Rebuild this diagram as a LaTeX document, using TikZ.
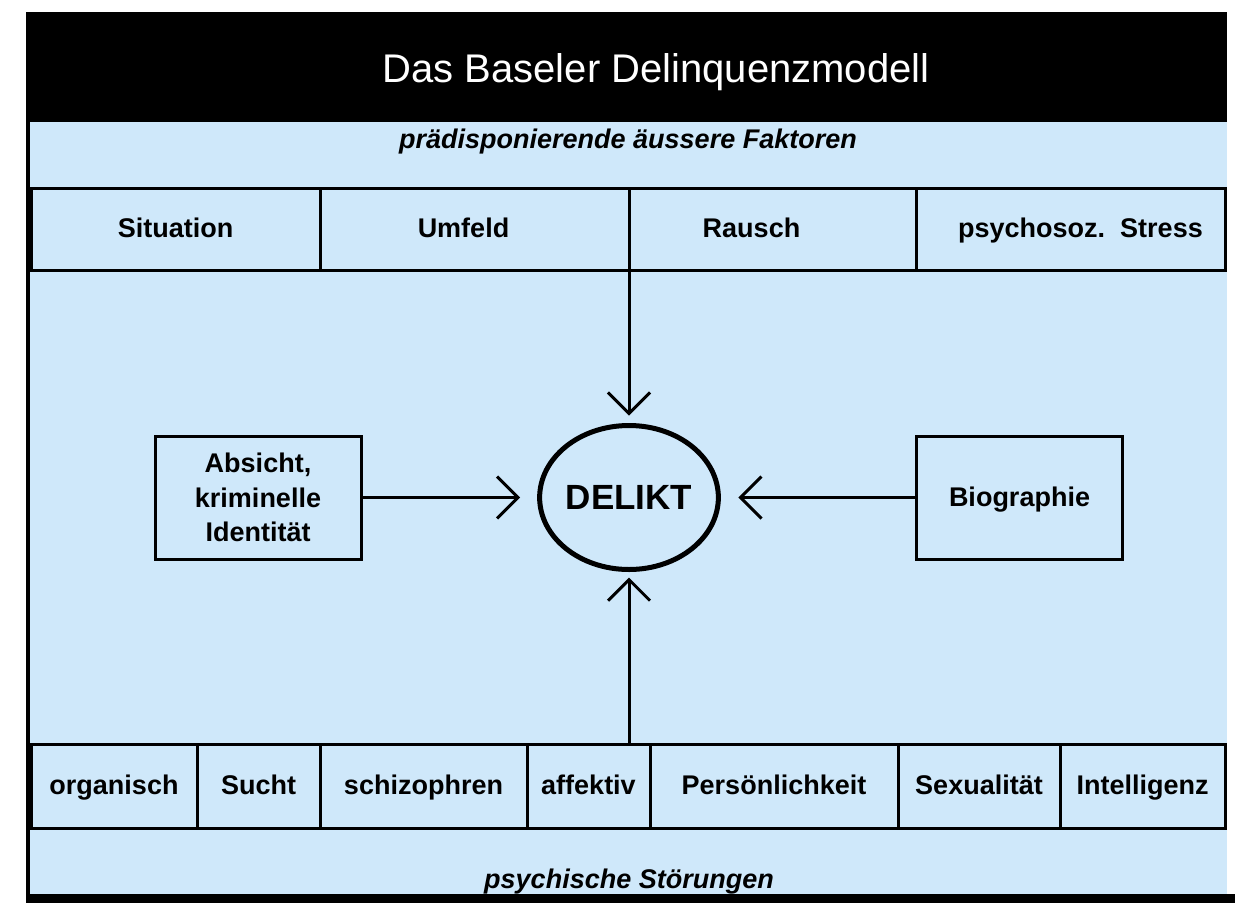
\documentclass[tikz,border=0pt]{standalone}
\usepackage{fontspec}
\setmainfont{Liberation Sans}
\usepackage{tikz}
\usetikzlibrary{positioning,arrows.meta,shapes.geometric}
\definecolor{panelblue}{RGB}{207,232,250}

\begin{document}
\begin{tikzpicture}[x=1pt, y=-1pt,
    cell/.style={draw, line width=3pt, outer sep=0pt, inner sep=0pt, minimum height=82pt, text height=20pt, text depth=3pt, font=\fontsize{27}{34}\selectfont\bfseries},
    side/.style={draw, line width=3pt, outer sep=0pt, minimum width=206pt, minimum height=123pt, align=center, font=\fontsize{27}{34.5}\selectfont\bfseries},
    feed/.style={-{Straight Barb[length=21pt, width=42pt]}, line width=3pt}]

    \useasboundingbox (0,0) rectangle (1235,903);
    \fill (26,12) rectangle (1227,122);
    \fill (26,12) rectangle (29.5,903);
    \fill[panelblue] (29.5,122) rectangle (1227,894);
    \fill (26,894) rectangle (1235,903);

    \node[white, anchor=base, font=\fontsize{40}{48}\selectfont] (title) at (656,82) {Das Baseler Delinquenzmodell};
    \node[anchor=base, font=\fontsize{27}{32}\selectfont\bfseries\itshape] (outer) at (628,148) {prädisponierende äussere Faktoren};

    \node[cell, minimum width=289pt] (situation) at (175.5,229) {Situation};
    \node[cell, minimum width=309pt, right=0pt of situation] (umfeld) {Umfeld\hspace*{22pt}};
    \node[cell, minimum width=287pt, right=0pt of umfeld] (rausch) {Rausch\hspace*{42pt}};
    \node[cell, minimum width=309pt, right=0pt of rausch] (stress) {\hspace*{20pt}psychosoz.\ \ Stress};

    \node[ellipse, draw, line width=5pt, outer sep=0pt, inner sep=0pt, minimum width=164pt, minimum height=144pt, font=\fontsize{35}{40}\selectfont\bfseries] (delikt) at (629,497.5) {DELIKT};

    \node[side] (absicht) at (258,497.5) {Absicht,\\kriminelle\\Identität};
    \node[side, text height=20pt, text depth=3pt] (biographie) at (1019.5,497.5) {Biographie};

    \node[cell, minimum width=166pt, minimum height=84pt] (organisch) at (114,786) {organisch};
    \node[cell, minimum width=123pt, minimum height=84pt, right=0pt of organisch] (sucht) {Sucht};
    \node[cell, minimum width=207pt, minimum height=84pt, right=0pt of sucht] (schizo) {schizophren};
    \node[cell, minimum width=123pt, minimum height=84pt, right=0pt of schizo] (affektiv) {affektiv};
    \node[cell, minimum width=248pt, minimum height=84pt, right=0pt of affektiv] (person) {Persönlichkeit};
    \node[cell, minimum width=162pt, minimum height=84pt, right=0pt of person] (sexual) {Sexualität};
    \node[cell, minimum width=165pt, minimum height=84pt, right=0pt of sexual] (intell) {Intelligenz};

    \node[anchor=base, font=\fontsize{27}{32}\selectfont\bfseries\itshape] (inner) at (629,888) {psychische Störungen};

    \draw[feed, shorten >=10pt] (umfeld.south east) -- (delikt.north);
    \draw[feed, shorten >=19.5pt] (absicht) -- (delikt);
    \draw[feed, shorten >=20pt] (biographie) -- (delikt);
    \draw[feed, shorten >=8pt] (delikt |- affektiv.north) -- (delikt);
\end{tikzpicture}
\end{document}
